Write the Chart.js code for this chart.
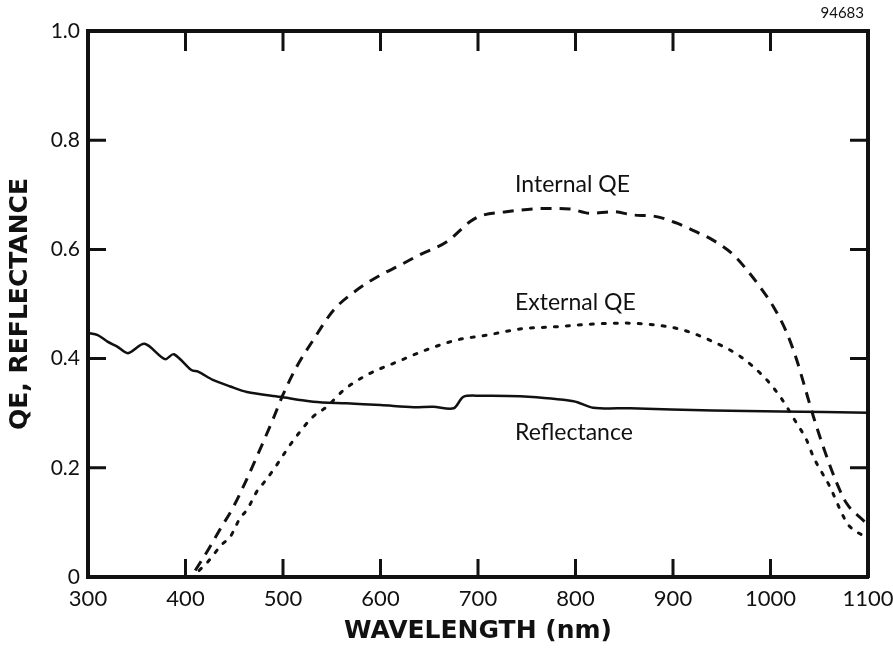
<!DOCTYPE html>
<html>
<head>
<meta charset="utf-8">
<script src="https://cdn.jsdelivr.net/npm/chart.js@4.4.1/dist/chart.umd.min.js"></script>
<style>
  html, body { margin: 0; padding: 0; background: #fff; }
  #wrap { width: 893px; height: 652px; position: relative; }
</style>
</head>
<body>
<div id="wrap"><canvas id="qe"></canvas></div>
<script>
// spectral response of the photodiode, wavelength in nm
const reflWl  = [300, 310, 320, 330, 341, 358, 379, 388, 406, 413, 428, 446, 463, 497, 531, 565, 600, 634, 654, 675, 685, 702, 743, 798, 818, 856, 941, 1010, 1100];
const reflVal = [0.447, 0.443, 0.431, 0.422, 0.410, 0.427, 0.399, 0.408, 0.379, 0.376, 0.361, 0.349, 0.339, 0.330, 0.321, 0.318, 0.315, 0.311, 0.312, 0.309, 0.330, 0.332, 0.331, 0.322, 0.310, 0.309, 0.305, 0.303, 0.301];

const intWl  = [410, 423, 435, 449, 461, 476, 490, 500, 514, 531, 552, 576, 600, 620, 640, 668, 692, 702, 729, 770, 794, 815, 839, 859, 880, 904, 924, 941, 962, 976, 989, 1003, 1017, 1027, 1034, 1044, 1054, 1068, 1078, 1095, 1100];
const intVal = [0.012, 0.049, 0.086, 0.128, 0.172, 0.232, 0.290, 0.334, 0.385, 0.434, 0.489, 0.526, 0.553, 0.571, 0.590, 0.614, 0.651, 0.661, 0.669, 0.675, 0.674, 0.666, 0.669, 0.663, 0.661, 0.648, 0.632, 0.617, 0.590, 0.562, 0.532, 0.495, 0.446, 0.397, 0.355, 0.294, 0.239, 0.172, 0.135, 0.104, 0.095];

const extWl  = [414, 423, 437, 446, 456, 463, 474, 480, 492, 499, 511, 531, 545, 562, 586, 617, 647, 678, 690, 709, 746, 777, 815, 849, 880, 911, 941, 969, 993, 1010, 1027, 1037, 1044, 1061, 1075, 1080, 1100];
const extVal = [0.012, 0.028, 0.059, 0.074, 0.108, 0.123, 0.159, 0.172, 0.201, 0.220, 0.251, 0.294, 0.312, 0.342, 0.370, 0.394, 0.416, 0.434, 0.438, 0.443, 0.455, 0.458, 0.463, 0.465, 0.462, 0.452, 0.431, 0.404, 0.367, 0.330, 0.281, 0.251, 0.220, 0.165, 0.110, 0.095, 0.071];

const xMin = 300, xMax = 1100, xStep = 100;
const yMin = 0, yMax = 1, yStep = 0.2;

// curve names, anchored at (wavelength, value) of their left edge
const notes = [
  { text: "Internal QE", wl: 738, v: 0.718 },
  { text: "External QE", wl: 738, v: 0.502 },
  { text: "Reflectance", wl: 738, v: 0.264 },
];

const ink = "#111";
const pts = (xs, ys) => xs.map((x, i) => ({ x: x, y: ys[i] }));

// tick marks pointing into the plot on all four sides
const innerTicks = {
  id: "innerTicks",
  afterDatasetsDraw(chart) {
    const { ctx, chartArea: a, scales: { x, y } } = chart;
    ctx.save();
    ctx.strokeStyle = ink;
    ctx.lineWidth = 3;
    ctx.beginPath();
    x.ticks.forEach(t => {
      if (t.value <= xMin || t.value >= xMax) return;
      const px = x.getPixelForValue(t.value);
      ctx.moveTo(px, a.bottom); ctx.lineTo(px, a.bottom - 18);
      ctx.moveTo(px, a.top); ctx.lineTo(px, a.top + 20);
    });
    y.ticks.forEach(t => {
      if (t.value <= yMin || t.value >= yMax) return;
      const py = y.getPixelForValue(t.value);
      ctx.moveTo(a.left, py); ctx.lineTo(a.left + 18, py);
      ctx.moveTo(a.right, py); ctx.lineTo(a.right - 18, py);
    });
    ctx.stroke();

    ctx.fillStyle = ink;
    ctx.font = "23px Lato";
    ctx.textBaseline = "middle";
    ctx.textAlign = "left";
    notes.forEach(n => ctx.fillText(n.text, x.getPixelForValue(n.wl), y.getPixelForValue(n.v)));

    ctx.font = "15px Lato";
    ctx.textAlign = "right";
    ctx.fillText("94683", a.right - 4, 13);
    ctx.restore();
  },
};

// fixed box sizes, and no extra room reserved for overhanging labels
const fixBox = (w, h) => s => {
  if (w != null) s.width = w;
  if (h != null) s.height = h;
  s.paddingLeft = s.paddingRight = s.paddingTop = s.paddingBottom = 0;
};

const ctx = document.getElementById("qe").getContext("2d");
new Chart(ctx, {
  type: "line",
  data: {
    datasets: [
      {
        data: pts(reflWl, reflVal),
        borderColor: ink,
        borderWidth: 2.5,
        pointRadius: 0,
        tension: 0.3,
      },
      {
        data: pts(intWl, intVal),
        borderColor: ink,
        borderWidth: 3,
        borderDash: [11, 8],
        pointRadius: 0,
        cubicInterpolationMode: "monotone",
      },
      {
        data: pts(extWl, extVal),
        borderColor: ink,
        borderWidth: 3,
        borderDash: [3, 9],
        borderCapStyle: "round",
        pointRadius: 0,
        cubicInterpolationMode: "monotone",
      },
    ],
  },
  options: {
    responsive: true,
    maintainAspectRatio: false,
    animation: false,
    layout: { padding: 0 },
    plugins: { legend: { display: false }, tooltip: { enabled: false } },
    scales: {
      x: {
        type: "linear",
        position: "bottom",
        min: xMin, max: xMax,
        ticks: {
          stepSize: xStep,
          color: ink,
          padding: 9,
          font: { family: "Lato", size: 22 },
          callback: v => String(v),
        },
        grid: { drawOnChartArea: false, drawTicks: false },
        border: { display: true, width: 4, color: ink },
        title: {
          display: true,
          text: "WAVELENGTH (nm)",
          color: ink,
          font: { family: "DejaVu Sans", weight: "bold", size: 25 },
          padding: { top: 0, bottom: 6 },
        },
        afterFit: fixBox(null, 75),
      },
      x2: {
        type: "linear",
        position: "top",
        min: xMin, max: xMax,
        ticks: { display: false },
        grid: { drawOnChartArea: false, drawTicks: false },
        border: { display: true, width: 4, color: ink },
        afterFit: fixBox(null, 31),
      },
      y: {
        position: "left",
        min: yMin, max: yMax,
        ticks: {
          stepSize: yStep,
          color: ink,
          padding: 8,
          font: { family: "Lato", size: 21 },
          callback: v => (v === 0 ? "0" : v.toFixed(1)),
        },
        grid: { drawOnChartArea: false, drawTicks: false },
        border: { display: true, width: 4, color: ink },
        title: {
          display: true,
          text: "QE, REFLECTANCE",
          color: ink,
          font: { family: "DejaVu Sans", weight: "bold", size: 25 },
          padding: { top: 5, bottom: 0 },
        },
        afterFit: fixBox(88, null),
      },
      y2: {
        position: "right",
        min: yMin, max: yMax,
        ticks: { display: false },
        grid: { drawOnChartArea: false, drawTicks: false },
        border: { display: true, width: 4, color: ink },
        afterFit: fixBox(25, null),
      },
    },
  },
  plugins: [innerTicks],
});
</script>
</body>
</html>
